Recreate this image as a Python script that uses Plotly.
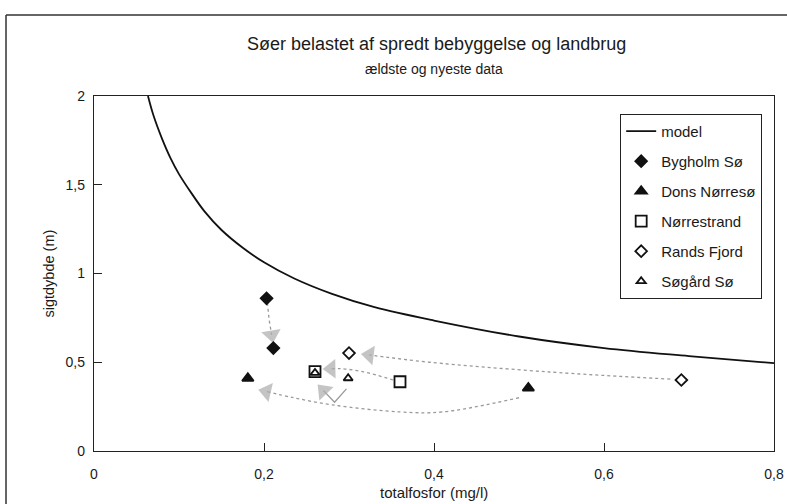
import plotly.graph_objects as go

# ---------------- data ----------------
model_x = [0.0635, 0.07, 0.08, 0.09, 0.10, 0.115, 0.13, 0.15, 0.175, 0.20,
           0.235, 0.28, 0.33, 0.40, 0.50, 0.60, 0.70, 0.80]
model_y = [2.00, 1.89, 1.76, 1.65, 1.56, 1.45, 1.35, 1.245, 1.145, 1.063,
           0.973, 0.885, 0.81, 0.735, 0.645, 0.58, 0.535, 0.495]

lake_names = ["Bygholm Sø", "Dons Nørresø", "Nørrestrand", "Rands Fjord", "Søgård Sø"]
oldest_x = [0.203, 0.511, 0.360, 0.691, 0.299]
oldest_y = [0.86, 0.355, 0.39, 0.40, 0.41]
newest_x = [0.211, 0.181, 0.260, 0.300, 0.260]
newest_y = [0.58, 0.41, 0.447, 0.552, 0.44]
lake_symbols = ["diamond", "triangle-up", "square-open", "diamond-open", "triangle-up-open"]
lake_sizes = [9, 10, 11, 9, 8]

# arrow paths (oldest -> newest), last point = arrowhead centre
arrow_bygholm_x = [0.204, 0.206, 0.209]
arrow_bygholm_y = [0.835, 0.74, 0.655]
arrow_dons_x = [0.50, 0.41, 0.36, 0.28, 0.235, 0.203]
arrow_dons_y = [0.30, 0.22, 0.22, 0.26, 0.30, 0.335]
arrow_norre_x = [0.352, 0.316, 0.29, 0.279]
arrow_norre_y = [0.40, 0.447, 0.464, 0.463]
arrow_rands_x = [0.678, 0.536, 0.395, 0.345, 0.324]
arrow_rands_y = [0.405, 0.445, 0.50, 0.528, 0.541]
arrow_sogard_x = [0.297, 0.283, 0.270]
arrow_sogard_y = [0.35, 0.275, 0.34]

x_ticks = [0, 0.2, 0.4, 0.6, 0.8]
y_ticks = [0, 0.5, 1, 1.5, 2]

FONT = "Liberation Sans, Arial, sans-serif"
TXT = "#1a1a1a"
ARROW_LINE = "#9a9a9a"
ARROW_HEAD = "#ababab"

fig = go.Figure()

# arrows
arrows = [
    (arrow_bygholm_x, arrow_bygholm_y, "dot", "linear"),
    (arrow_dons_x, arrow_dons_y, "dot", "spline"),
    (arrow_norre_x, arrow_norre_y, "dot", "spline"),
    (arrow_rands_x, arrow_rands_y, "dot", "spline"),
    (arrow_sogard_x, arrow_sogard_y, "solid", "linear"),
]
for ax_, ay_, dash, shape in arrows:
    n = len(ax_)
    fig.add_trace(go.Scatter(
        x=ax_, y=ay_, mode="lines+markers", showlegend=False, hoverinfo="skip",
        line=dict(color=ARROW_LINE, width=1.3, dash=dash, shape=shape),
        marker=dict(symbol="triangle-up", size=[0] * (n - 1) + [17],
                    color=ARROW_HEAD, angleref="previous", line=dict(width=0)),
    ))

# model curve
fig.add_trace(go.Scatter(
    x=model_x, y=model_y, mode="lines", name="model",
    line=dict(color="#111111", width=1.8, shape="spline"),
    legendgroup="model",
))

# lakes
for i, name in enumerate(lake_names):
    fig.add_trace(go.Scatter(
        x=[oldest_x[i], newest_x[i]], y=[oldest_y[i], newest_y[i]],
        mode="markers", name=name, legendgroup=name,
        marker=dict(symbol=lake_symbols[i], size=lake_sizes[i], color="#111111",
                    line=dict(color="#111111", width=1.8)),
    ))

# titles
fig.add_annotation(text="Søer belastet af spredt bebyggelse og landbrug",
                   xref="paper", yref="paper", x=0.504, y=1.1465,
                   showarrow=False, font=dict(size=18, color=TXT, family=FONT),
                   xanchor="center", yanchor="middle")
fig.add_annotation(text="ældste og nyeste data",
                   xref="paper", yref="paper", x=0.50, y=1.076,
                   showarrow=False, font=dict(size=14, color=TXT, family=FONT),
                   xanchor="center", yanchor="middle")
# axis titles
fig.add_annotation(text="totalfosfor (mg/l)", xref="paper", yref="paper",
                   x=0.5, y=-0.1155, showarrow=False,
                   font=dict(size=15, color=TXT, family=FONT),
                   xanchor="center", yanchor="middle")
fig.add_annotation(text="sigtdybde (m)", xref="paper", yref="paper",
                   x=-0.0676, y=0.5, showarrow=False, textangle=-90,
                   font=dict(size=14.5, color=TXT, family=FONT),
                   xanchor="center", yanchor="middle")

# outer frame (left and top edges visible)
fig.add_shape(type="line", xref="paper", yref="paper", x0=-0.1294, x1=-0.1294,
              y0=-0.2, y1=1.228, line=dict(color="#333333", width=1.5))
fig.add_shape(type="line", xref="paper", yref="paper", x0=-0.1294, x1=1.1,
              y0=1.228, y1=1.228, line=dict(color="#333333", width=1.5))

fig.update_layout(
    width=787, height=504,
    margin=dict(l=94, r=13, t=96, b=53),
    paper_bgcolor="white", plot_bgcolor="white",
    separators=", ",
    font=dict(family=FONT, size=14, color=TXT),
    showlegend=True,
    legend=dict(x=0.7735, y=0.95, xanchor="left", yanchor="top",
                bgcolor="white", bordercolor="#222222", borderwidth=1.2,
                font=dict(size=15, family=FONT), tracegroupgap=7.5,
                traceorder="grouped"),
    xaxis=dict(range=[0, 0.8], tickvals=x_ticks, ticks="inside", ticklen=8,
               tickcolor="#222222", showline=True, linecolor="#222222", linewidth=1.4,
               mirror=True, showgrid=False, zeroline=False, ticklabelstandoff=10,
               automargin=False),
    yaxis=dict(range=[0, 2], tickvals=y_ticks, ticks="inside", ticklen=8,
               tickcolor="#222222", showline=True, linecolor="#222222", linewidth=1.4,
               mirror=True, showgrid=False, zeroline=False, ticklabelstandoff=5,
               automargin=False),
)

fig.write_html("out.html", config={"displayModeBar": False},
               post_script="document.body.style.margin='0px';document.body.style.overflow='hidden';")
